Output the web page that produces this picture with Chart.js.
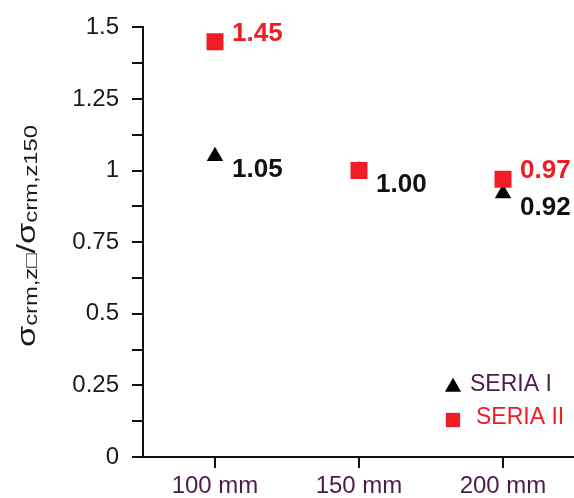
<!DOCTYPE html>
<html>
<head>
<meta charset="utf-8">
<script src="https://cdn.jsdelivr.net/npm/chart.js@4/dist/chart.umd.min.js"></script>
<style>
  html, body { margin: 0; padding: 0; background: #fff; overflow: hidden; }
  /* szerszy kontener: prawy margines ukladu Chart.js wypada poza okno */
  #wrap { width: 587px; height: 498px; position: relative; }
  canvas { display: block; }
</style>
</head>
<body>
<div id="wrap"><canvas id="ratioChart"></canvas></div>
<script>
// dane
const categories = ['100 mm', '150 mm', '200 mm'];
const seriaI = [1.05, 1.00, 0.92];
const seriaII = [1.45, 1.00, 0.97];
const yTickLabels = ['0', '0.25', '0.5', '0.75', '1', '1.25', '1.5'];
const seriesNames = ['SERIA I', 'SERIA II'];

const RED = '#ee1c24';
const FONT = '"Liberation Sans", Arial, sans-serif';

// etykiety wartosci przy punktach
const valueLabels = {
    id: 'valueLabels',
    afterDatasetsDraw(chart) {
        const ctx = chart.ctx;
        ctx.save();
        ctx.font = 'bold 26px ' + FONT;
        ctx.textBaseline = 'alphabetic';
        ctx.textAlign = 'left';
        chart.data.datasets.forEach((ds, i) => {
            const meta = chart.getDatasetMeta(i);
            meta.data.forEach((pt, j) => {
                // druga seria: pomijamy etykiete, gdy wartosc jest taka sama jak w serii I
                if (ds.labelAbove && ds.data[j] === seriaI[j]) return;
                ctx.fillStyle = ds.labelColor;
                const dy = ds.labelAbove ? -1 : 21;
                ctx.fillText(ds.data[j].toFixed(2), pt.x + 17, pt.y + dy);
            });
        });
        ctx.restore();
    }
};

// legenda w prawym dolnym rogu
const innerLegend = {
    id: 'innerLegend',
    afterDraw(chart) {
        const ctx = chart.ctx;
        const area = chart.chartArea;
        const items = [
            { ds: chart.data.datasets[1], textX: 470, textColor: '#4b1c4b', dy: 0 },
            { ds: chart.data.datasets[0], textX: 476, textColor: RED, dy: 33 }
        ];
        ctx.save();
        ctx.font = '23px ' + FONT;
        ctx.textBaseline = 'alphabetic';
        items.forEach(it => {
            const baseY = area.bottom - 66 + it.dy;
            Chart.helpers.drawPoint(ctx, {
                pointStyle: it.ds.pointStyle,
                radius: it.ds.legendRadius,
                rotation: 0
            }, 453, baseY - 4);
            ctx.fillStyle = it.ds.pointBackgroundColor;
            ctx.fill();
            ctx.fillStyle = it.textColor;
            ctx.fillText(it.ds.label, it.textX, baseY);
        });
        ctx.restore();
    }
};

// tytul osi Y z indeksami dolnymi
const yTitle = {
    id: 'yTitle',
    afterDraw(chart) {
        const ctx = chart.ctx;
        const parts = [
            ['σ', false], ['crm,z□', true], ['/', false], ['σ', false], ['crm,z150', true]
        ];
        const mainFont = '26px ' + FONT;
        const subFont = '18px ' + FONT;
        ctx.save();
        let total = 0;
        parts.forEach(p => {
            ctx.font = p[1] ? subFont : mainFont;
            p.push(ctx.measureText(p[0]).width);
            total += p[2];
        });
        const target = 222;
        ctx.translate(35, 236);
        ctx.rotate(-Math.PI / 2);
        ctx.scale(target / total, 1);
        ctx.fillStyle = '#1a1a1a';
        ctx.textBaseline = 'alphabetic';
        let x = -total / 2;
        parts.forEach(p => {
            ctx.font = p[1] ? subFont : mainFont;
            ctx.fillText(p[0], x, p[1] ? 2 : 0);
            x += p[2];
        });
        ctx.restore();
    }
};

const ctx = document.getElementById('ratioChart');
const myChart = new Chart(ctx, {
    type: 'line',
    data: {
        labels: categories,
        datasets: [{
            label: seriesNames[1],
            data: seriaII,
            showLine: false,
            pointStyle: 'rect',
            pointRadius: 12,
            pointHoverRadius: 12,
            legendRadius: 10,
            pointBackgroundColor: RED,
            pointBorderWidth: 0,
            labelColor: RED,
            labelAbove: true,
            order: 0
        }, {
            label: seriesNames[0],
            data: seriaI,
            showLine: false,
            pointStyle: 'triangle',
            pointRadius: 9.5,
            pointHoverRadius: 9.5,
            legendRadius: 9,
            pointBackgroundColor: '#000',
            pointBorderWidth: 0,
            labelColor: '#111',
            labelAbove: false,
            order: 1
        }]
    },
    options: {
        responsive: true,
        maintainAspectRatio: false,
        animation: false,
        layout: { padding: { top: 27, right: 0, bottom: 0, left: 0 } },
        plugins: {
            legend: { display: false },
            tooltip: { enabled: false }
        },
        scales: {
            x: {
                offset: true,
                afterFit: s => {
                    s.height = 41;
                    s.paddingLeft = 0;
                    s.paddingRight = 0;
                },
                grid: {
                    drawOnChartArea: false,
                    drawTicks: true,
                    tickLength: 11,
                    color: '#111',
                    lineWidth: 2,
                    offset: false
                },
                border: { display: true, color: '#111', width: 2 },
                ticks: {
                    color: '#4b1c4b',
                    padding: 4,
                    font: { family: FONT, size: 24 }
                }
            },
            y: {
                min: 0,
                max: 1.5,
                afterFit: s => { s.width = 143; },
                grid: {
                    drawOnChartArea: false,
                    drawTicks: true,
                    tickLength: 11,
                    color: '#111',
                    lineWidth: 2
                },
                border: { display: true, color: '#111', width: 2 },
                ticks: {
                    stepSize: 0.125,
                    autoSkip: false,
                    color: '#1a1a1a',
                    padding: 13,
                    font: { family: FONT, size: 24 },
                    callback: v => {
                        const k = v * 4;
                        return Math.abs(k - Math.round(k)) < 1e-9 ? yTickLabels[Math.round(k)] : '';
                    }
                }
            }
        }
    },
    plugins: [valueLabels, innerLegend, yTitle]
});
</script>
</body>
</html>
